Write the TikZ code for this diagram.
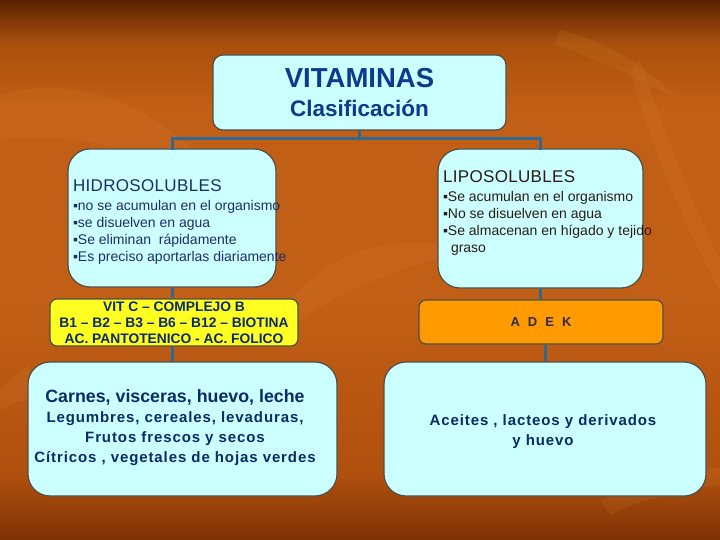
\documentclass[tikz,border=0pt]{standalone}
\usepackage{fontspec}
\setmainfont{Liberation Sans}
\newfontfamily\widesf[LetterSpace=6]{Liberation Sans}
\newfontfamily\headsf[LetterSpace=2]{Liberation Sans}
\usetikzlibrary{calc}
\definecolor{boxfill}{HTML}{CCFFFF}
\definecolor{boxline}{HTML}{4F4F47}
\definecolor{connc}{HTML}{2F6890}
\definecolor{titlec}{HTML}{0C3A8C}
\definecolor{navy}{HTML}{0B2A66}
\definecolor{hidroc}{HTML}{1B2F66}
\definecolor{lipoc}{HTML}{2A1C14}
\definecolor{yelfill}{HTML}{FFFF22}
\definecolor{orfill}{HTML}{FF9A00}
\definecolor{adekc}{HTML}{2C2A48}
\definecolor{bgtop}{HTML}{5A2300}
\definecolor{bgupper}{HTML}{A9500C}
\definecolor{bgmid}{HTML}{C25F16}
\definecolor{bglow}{HTML}{B0500E}
\definecolor{bgbot}{HTML}{7E3205}
\definecolor{leafc}{HTML}{E08A3A}
\pgfdeclareverticalshading{bgshade}{100bp}{color(0bp)=(bgbot); color(25bp)=(bgbot); color(31bp)=(bglow); color(47bp)=(bgmid); color(65bp)=(bgmid); color(71bp)=(bgupper); color(75bp)=(bgtop); color(100bp)=(bgtop)}
\begin{document}
\begin{tikzpicture}[x=1pt,y=-1pt,
  cbox/.style={draw=boxline, line width=1.2pt, fill=boxfill, inner sep=0pt},
  bigr/.style={rounded corners=22pt},
  smallr/.style={rounded corners=7pt},
  conn/.style={draw=connc, line width=3pt},
  leaf/.style={fill=leafc, fill opacity=0.13, draw=none},
  txt/.style={inner sep=0pt, outer sep=0pt}]
\useasboundingbox (0,0) rectangle (720,540);
\shade[shading=bgshade] (0,0) rectangle (720,540);
% faint background leaves
\fill[leaf] (0,95) .. controls (80,70) and (170,110) .. (230,190) .. controls (150,150) and (70,130) .. (0,140) -- cycle;
\fill[leaf] (290,300) .. controls (330,250) and (400,230) .. (470,250) .. controls (410,265) and (350,285) .. (300,320) -- cycle;
\fill[leaf] (640,60) .. controls (660,120) and (690,200) .. (720,260) -- (720,290) .. controls (680,220) and (650,140) .. (630,70) -- cycle;
\fill[leaf] (560,30) .. controls (600,40) and (640,60) .. (680,100) .. controls (640,80) and (600,60) .. (555,45) -- cycle;
\fill[leaf] (0,390) .. controls (10,380) and (20,370) .. (30,365) -- (30,400) .. controls (20,400) and (10,405) .. (0,410) -- cycle;
\fill[leaf] (600,500) .. controls (650,480) and (690,470) .. (720,468) -- (720,485) .. controls (680,490) and (640,500) .. (610,515) -- cycle;

% boxes
\node[cbox, rounded corners=10pt, minimum width=293, minimum height=75, align=center,
      text=titlec, font=\bfseries\fontsize{22.5}{28.5}\selectfont] (vit) at (359.5,92.5)
      {{\fontsize{27.5}{28}\selectfont VITAMINAS}\\Clasificación};
\node[cbox, bigr, minimum width=208, minimum height=138] (hidro) at (172,218) {};
\node[cbox, bigr, minimum width=205, minimum height=139] (lipo) at (540.5,218.5) {};
\node[cbox, smallr, fill=yelfill, minimum width=248, minimum height=47, align=center,
      text=navy, font=\bfseries\fontsize{13.8}{16}\selectfont] (yel) at (174,322.5)
      {VIT C – COMPLEJO B\\B1 – B2 – B3 – B6 – B12 – BIOTINA\\AC. PANTOTENICO - AC. FOLICO};
\node[cbox, smallr, fill=orfill, minimum width=244, minimum height=44,
      text=adekc, font=\bfseries\fontsize{13}{16}\selectfont] (adek) at (541,322)
      {A\hspace{8pt}D\hspace{8pt}E\hspace{8pt}K};
\node[cbox, bigr, minimum width=309, minimum height=134] (carnes) at (182.5,429) {};
\node[cbox, bigr, minimum width=322, minimum height=134] (aceites) at (545,429) {};

% texts inside the tall boxes
\node[txt, anchor=north west, align=left, text=hidroc, font=\fontsize{14}{17}\selectfont] (hidrotxt) at (73,180)
  {{\headsf\fontsize{17}{17}\selectfont HIDROSOLUBLES}\\[1.5pt]
   ▪no se acumulan en el organismo\\
   ▪se disuelven en agua\\
   ▪Se eliminan\ \ rápidamente\\
   ▪Es preciso aportarlas diariamente};
\node[txt, anchor=north west, align=left, text=lipoc, font=\fontsize{14}{17}\selectfont] (lipotxt) at (443,171)
  {{\headsf\fontsize{17}{17}\selectfont LIPOSOLUBLES}\\[1.5pt]
   ▪Se acumulan en el organismo\\
   ▪No se disuelven en agua\\
   ▪Se almacenan en hígado y tejido\\
   \hspace{8pt}graso};
\node[txt, align=center, text=navy, font=\widesf\bfseries\fontsize{15}{20}\selectfont] (carnestxt) at (175,428)
  {{\normalfont\bfseries\fontsize{17.8}{20}\selectfont Carnes, visceras, huevo, leche}\\
   Legumbres, cereales, levaduras,\\
   Frutos frescos y secos\\
   Cítricos , vegetales de hojas verdes};
\node[txt, align=center, text=navy, font=\widesf\bfseries\fontsize{15}{20}\selectfont] (aceitestxt) at (543,431.5)
  {Aceites , lacteos y derivados\\y huevo};

% connectors
\coordinate (split) at ($(vit.south)+(0,8)$);
\draw[conn] (vit.south) -- (split);
\draw[conn, line cap=rect] (split) -| (hidro.north);
\draw[conn, line cap=rect] (split) -| (lipo.north);
\draw[conn] (hidro.south) -- (hidro.south |- yel.north);
\draw[conn] (yel.south -| hidro.south) -- (carnes.north -| hidro.south);
\draw[conn] (lipo.south) -- (lipo.south |- adek.north);
\draw[conn] (adek.south -| aceites.north) -- (aceites.north);
\end{tikzpicture}
\end{document}
